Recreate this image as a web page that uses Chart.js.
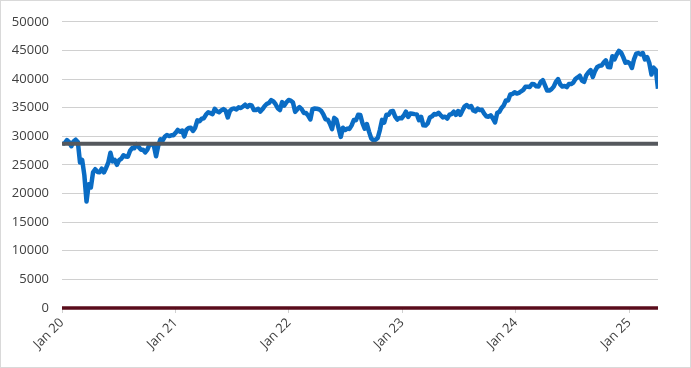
<!DOCTYPE html>
<html>
<head>
<meta charset="utf-8">
<script src="https://cdn.jsdelivr.net/npm/chart.js@4"></script>
<style>
  body { margin: 0; background: #fff; }
  #wrap { width: 691px; height: 368px; border: 1px solid #d9d9d9; box-sizing: border-box; }
</style>
</head>
<body>
<div id="wrap"><canvas id="idx" width="689" height="366"></canvas></div>
<script>
// weekly closes, one array per year (first week = Jan 3 2020)
var dow2020 = [28634, 28824, 29348, 28990, 28256, 29103, 29398, 28992, 25409, 25865,
	23186, 18600, 21637, 21053, 23719, 24242, 23775, 23724, 24331, 23685,
	24465, 25383, 27111, 25606, 25871, 25016, 25827, 26075, 26672, 26470,
	26428, 27433, 27931, 27930, 28654, 28133, 27666, 27657, 27174, 27682,
	28587, 28606, 28336, 26502, 28323, 29480, 29263, 29910, 30218, 30046,
	30179, 30200, 30606];
var dow2021 = [31098, 30814, 30997, 29983, 31148, 31458, 31494, 30932, 31496, 32779,
	32628, 33072, 33153, 33801, 34200, 34043, 33875, 34778, 34382, 34208,
	34529, 34756, 34480, 33290, 34433, 34786, 34870, 34687, 35062, 34935,
	35209, 35515, 35120, 35455, 35369, 34608, 34584, 34798, 34326, 34746,
	35295, 35677, 35820, 36328, 36100, 35602, 34899, 34580, 35971, 35365,
	35950, 36338];
var dow2022 = [36231, 35911, 34265, 34725, 35089, 34738, 34079, 34058, 33614, 32944,
	34754, 34861, 34818, 34721, 34451, 33811, 32977, 32899, 32197, 31262,
	33213, 32900, 31393, 29888, 31500, 31097, 31338, 31288, 31899, 32845,
	32803, 33761, 33707, 32283, 31318, 32151, 30822, 29650, 29300, 29400,
	29700, 31082, 32861, 32403, 33748, 33746, 34347, 34430, 33476, 32920,
	33204, 33147];
var dow2023 = [33631, 34303, 33375, 33978, 33926, 33869, 33827, 32817, 33391, 31910,
	31862, 32238, 33274, 33485, 33887, 33809, 34098, 33675, 33301, 33427,
	33093, 33763, 33877, 34299, 33727, 34408, 33734, 34509, 35228, 35460,
	35066, 35281, 34501, 34347, 34838, 34577, 34618, 33964, 33508, 33408,
	33670, 33127, 32418, 34061, 34283, 34947, 35390, 36246, 36248, 37306,
	37385, 37690];
var dow2024 = [37466, 37593, 37863, 38109, 38654, 38671, 38628, 39131, 39087, 38723,
	38715, 39476, 39807, 38904, 37983, 37986, 38240, 38676, 39513, 40004,
	39070, 38686, 38799, 38589, 39150, 39119, 39376, 40001, 40288, 40589,
	39737, 39498, 40660, 41175, 41563, 40345, 41394, 42063, 42313, 42353,
	42864, 43276, 42114, 42052, 43989, 43445, 44297, 44911, 44643, 43828,
	42840, 42992];
var dow2025 = [42732, 41938, 43488, 44424, 44545, 44303, 44546, 43428, 43841, 42801,
	40800, 41985, 41583, 38315];

var startLevel = 28700;
var zeroLevel = 0;

var tickLabels = ["Jan 20", "Jan 21", "Jan 22", "Jan 23", "Jan 24", "Jan 25"];
var tickWeeks = [-0.29, 52.0, 104.14, 156.29, 208.43, 260.71];

function do_it()
{
    var values = [].concat(dow2020, dow2021, dow2022, dow2023, dow2024, dow2025);
    var series = values.map(function(v, i) { return { x: i, y: v }; });
    var last = values.length - 1;
    var first = tickWeeks[0];

    new Chart(document.getElementById("idx"), {
	type: 'line',
	data: {
	    datasets: [{
		label: 'Start',
		data: [{ x: first, y: startLevel }, { x: last, y: startLevel }],
		borderColor: '#55585d',
		borderWidth: 4,
		pointRadius: 0,
		order: 0
	    }, {
		label: 'Index',
		data: series,
		borderColor: '#0a6cc4',
		borderWidth: 4.5,
		pointRadius: 0,
		tension: 0,
		borderJoinStyle: 'round',
		order: 1
	    }, {
		label: 'Zero',
		data: [{ x: first, y: zeroLevel }, { x: last, y: zeroLevel }],
		borderColor: '#5a0c1b',
		borderWidth: 3.5,
		pointRadius: 0,
		clip: false,
		order: 2
	    }]
	},
	options: {
	    responsive: false,
	    animation: false,
	    layout: { padding: { top: 17, right: 32, left: 0, bottom: 0 } },
	    plugins: { legend: { display: false }, tooltip: { enabled: false } },
	    scales: {
		x: {
		    type: 'linear',
		    min: first,
		    max: last,
		    afterBuildTicks: function(axis) {
			axis.ticks = tickWeeks.map(function(w) { return { value: w }; });
		    },
		    afterFit: function(axis) { axis.height = 59; },
		    ticks: {
			autoSkip: false,
			maxRotation: 45,
			minRotation: 45,
			padding: 2,
			color: '#404040',
			font: { family: 'Open Sans', size: 13 },
			callback: function(v, i) { return tickLabels[i]; }
		    },
		    grid: { drawOnChartArea: false, tickLength: 5, color: '#d0d0d0' },
		    border: { display: false }
		},
		y: {
		    min: 0,
		    max: 50000,
		    afterFit: function(axis) { axis.width = 61; },
		    ticks: {
			stepSize: 5000,
			padding: 13,
			color: '#404040',
			font: { family: 'Open Sans', size: 13 },
			callback: function(v) { return String(v); }
		    },
		    grid: { drawTicks: false, color: '#d0d0d0' },
		    border: { display: false }
		}
	    }
	}
    });
}

do_it();
</script>
</body>
</html>
